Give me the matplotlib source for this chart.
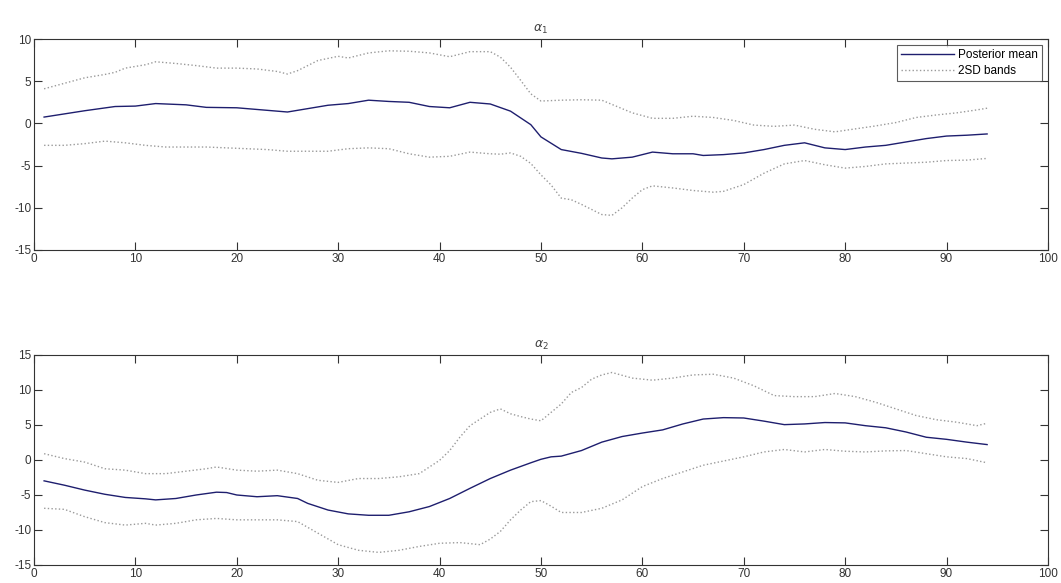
import numpy as np
import matplotlib
matplotlib.use('Agg')
import matplotlib.pyplot as plt

plt.rcParams['font.family'] = ['Liberation Sans', 'DejaVu Sans']
plt.rcParams['axes.unicode_minus'] = False

# alpha_1: posterior mean and 2SD bands
a1_mean_t = [1, 5, 8, 10, 12, 15, 17, 20, 23, 25, 27, 29, 31, 33, 35, 37, 39, 41, 43, 45, 47, 49,
             50, 52, 54, 56, 57, 59, 61, 63, 65, 66, 68, 70, 72, 74, 76, 78, 80, 82, 84, 86, 88, 90, 92, 94]
a1_mean = [0.75, 1.5, 2.0, 2.05, 2.35, 2.2, 1.9, 1.85, 1.55, 1.35, 1.75, 2.15, 2.35, 2.75, 2.6, 2.5, 2.0, 1.85, 2.5, 2.3, 1.45, -0.15,
           -1.6, -3.1, -3.55, -4.1, -4.2, -4.0, -3.4, -3.6, -3.6, -3.8, -3.7, -3.5, -3.1, -2.6, -2.3, -2.9, -3.1, -2.8, -2.6, -2.2, -1.8, -1.5, -1.4, -1.25]

a1_up_t = [1, 3, 5, 7, 8, 9, 11, 12, 14, 16, 18, 20, 22, 24, 25, 26, 28, 30, 31, 33, 35, 37, 39, 41, 43, 45, 46, 47, 48, 49,
           50, 52, 54, 56, 57, 59, 61, 63, 65, 67, 69, 71, 73, 75, 77, 79, 81, 83, 85, 87, 89, 91, 93, 94]
a1_up = [4.1, 4.75, 5.4, 5.8, 6.05, 6.55, 6.95, 7.3, 7.1, 6.85, 6.55, 6.55, 6.45, 6.15, 5.85, 6.25, 7.45, 7.95, 7.75, 8.35, 8.6, 8.55, 8.35, 7.9, 8.5, 8.5, 7.85, 6.65, 5.1, 3.5,
         2.65, 2.75, 2.8, 2.75, 2.25, 1.25, 0.6, 0.6, 0.85, 0.7, 0.35, -0.2, -0.35, -0.2, -0.7, -1.0, -0.65, -0.3, 0.1, 0.7, 1.0, 1.25, 1.6, 1.8]

a1_lo_t = [1, 3, 5, 7, 9, 11, 13, 15, 17, 19, 21, 23, 25, 27, 29, 31, 33, 35, 37, 39, 41, 43, 45, 46, 47, 48, 49,
           50, 51, 52, 53, 54, 55, 56, 57, 58, 59, 60, 61, 63, 65, 67, 68, 70, 72, 74, 76, 78, 80, 82, 84, 86, 88, 90, 92, 94]
a1_lo = [-2.6, -2.6, -2.4, -2.1, -2.3, -2.6, -2.8, -2.8, -2.8, -2.9, -3.0, -3.1, -3.3, -3.3, -3.3, -3.0, -2.9, -3.0, -3.6, -4.0, -3.9, -3.4, -3.6, -3.65, -3.5, -3.9, -4.75,
         -6.1, -7.3, -8.85, -9.05, -9.6, -10.2, -10.8, -10.9, -10.0, -8.85, -7.85, -7.4, -7.65, -7.95, -8.15, -8.05, -7.25, -5.9, -4.8, -4.4, -4.9, -5.3, -5.1, -4.8, -4.7, -4.6, -4.4, -4.35, -4.15]

# alpha_2: posterior mean and 2SD bands
a2_mean_t = [1, 3, 5, 7, 9, 11, 12, 14, 16, 18, 19, 20, 22, 24, 26, 27, 29, 31, 33, 35, 37, 39, 41, 43, 45, 47, 49,
             50, 51, 52, 54, 56, 58, 60, 62, 64, 66, 68, 70, 72, 74, 76, 78, 80, 82, 84, 86, 88, 90, 92, 94]
a2_mean = [-2.98, -3.6, -4.3, -4.9, -5.35, -5.55, -5.7, -5.5, -5.0, -4.6, -4.65, -5.0, -5.25, -5.1, -5.5, -6.2, -7.15, -7.7, -7.9, -7.9, -7.4, -6.65, -5.5, -4.05, -2.65, -1.45, -0.4,
           0.1, 0.45, 0.55, 1.35, 2.55, 3.35, 3.85, 4.3, 5.15, 5.85, 6.05, 6.0, 5.55, 5.05, 5.15, 5.35, 5.3, 4.9, 4.6, 4.0, 3.25, 2.95, 2.55, 2.2]

a2_up_t = [1, 3, 5, 7, 9, 11, 13, 15, 17, 18, 20, 22, 24, 26, 28, 30, 32, 34, 36, 38, 40, 41, 42, 43, 45, 46, 47, 48, 49,
           50, 51, 52, 53, 54, 55, 56, 57, 59, 61, 63, 65, 67, 69, 71, 73, 75, 77, 79, 81, 83, 85, 87, 89, 91, 93, 94]
a2_up = [0.9, 0.2, -0.3, -1.25, -1.45, -1.95, -1.95, -1.6, -1.25, -1.0, -1.45, -1.6, -1.45, -1.95, -2.9, -3.2, -2.65, -2.65, -2.4, -1.95, -0.05, 1.35, 3.25, 4.9, 6.8, 7.3, 6.6, 6.2, 5.85,
         5.6, 6.8, 8.0, 9.65, 10.35, 11.55, 12.15, 12.5, 11.7, 11.4, 11.7, 12.15, 12.25, 11.7, 10.6, 9.2, 9.05, 9.05, 9.5, 9.05, 8.25, 7.3, 6.35, 5.75, 5.4, 4.9, 5.25]

a2_lo_t = [1, 3, 5, 7, 9, 11, 12, 14, 16, 18, 20, 22, 24, 26, 28, 30, 32, 34, 36, 38, 40, 42, 44, 45, 46, 47, 48, 49,
           50, 51, 52, 54, 56, 58, 60, 62, 64, 66, 68, 70, 72, 74, 76, 78, 80, 82, 84, 86, 88, 90, 92, 94]
a2_lo = [-6.9, -7.05, -8.1, -8.95, -9.3, -9.05, -9.3, -9.05, -8.55, -8.35, -8.55, -8.55, -8.55, -8.8, -10.45, -12.1, -12.9, -13.2, -12.9, -12.35, -11.9, -11.8, -12.1, -11.3, -10.2, -8.55, -7.15, -5.95,
         -5.8, -6.6, -7.5, -7.5, -6.9, -5.7, -3.8, -2.65, -1.7, -0.75, -0.15, 0.45, 1.15, 1.5, 1.15, 1.5, 1.25, 1.15, 1.3, 1.35, 0.9, 0.45, 0.2, -0.4]

mean_color = '#1e1e6e'
band_color = '#9a9a9a'

fig = plt.figure(figsize=(10.61, 5.83), dpi=100)
ax1 = fig.add_axes([0.032, 0.5712, 0.9557, 0.3619])
ax2 = fig.add_axes([0.032, 0.0309, 0.9557, 0.3602])

panels = [
    (ax1, r'$\alpha_1$', a1_mean_t, a1_mean, a1_up_t, a1_up, a1_lo_t, a1_lo, (-15, 10)),
    (ax2, r'$\alpha_2$', a2_mean_t, a2_mean, a2_up_t, a2_up, a2_lo_t, a2_lo, (-15, 15)),
]

for ax, title, mt, m, ut, u, lt, lo, ylim in panels:
    ax.plot(mt, m, color=mean_color, lw=1.0, label='Posterior mean')
    ax.plot(ut, u, color=band_color, lw=1.0, ls=':', label='2SD bands')
    ax.plot(lt, lo, color=band_color, lw=1.0, ls=':')
    ax.set_xlim(0, 100)
    ax.set_ylim(*ylim)
    ax.set_xticks(np.arange(0, 101, 10))
    ax.set_yticks(np.arange(ylim[0], ylim[1] + 1, 5))
    ax.tick_params(direction='in', top=True, right=True, length=6, width=0.8,
                   labelsize=8.5, pad=2, colors='#333333')
    for s in ax.spines.values():
        s.set_linewidth(0.8)
        s.set_color('#333333')
    ax.set_title(title, fontsize=9, pad=5, color='#444444')

leg = ax1.legend(loc='upper right', fontsize=8.5, frameon=True, fancybox=False,
                 borderaxespad=0.5, handlelength=4.5, handletextpad=0.3,
                 borderpad=0.35, labelspacing=0.35)
leg.get_frame().set_edgecolor('#333333')
leg.get_frame().set_linewidth(0.8)

plt.savefig('out.png', dpi=100)
